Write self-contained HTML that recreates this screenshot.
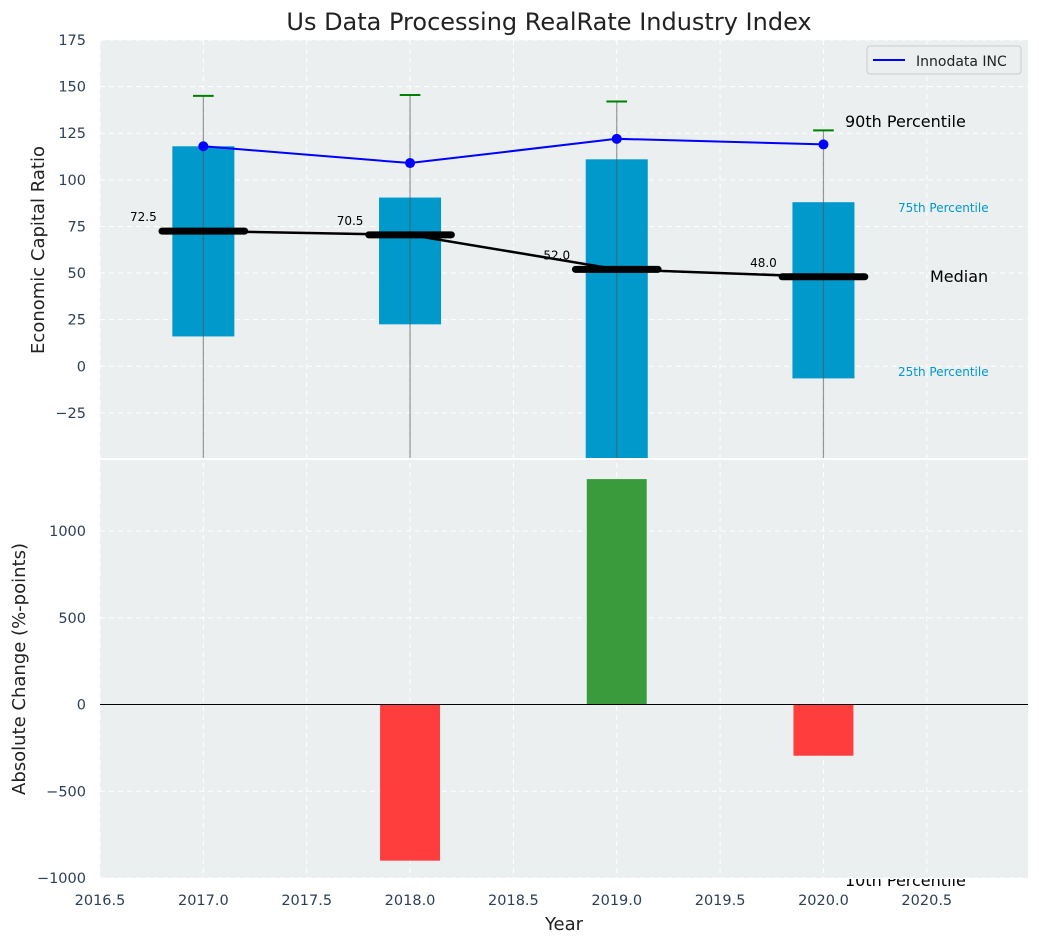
<!DOCTYPE html>
<html><head><meta charset="utf-8"><style>
body{margin:0;background:#fff;font-family:"DejaVu Sans","Liberation Sans",sans-serif}
svg text{font-family:"DejaVu Sans","Liberation Sans",sans-serif}
</style></head><body>
<svg id="chart" width="1039" height="942" xmlns="http://www.w3.org/2000/svg">
<text x="549" y="30" text-anchor="middle" font-size="24" fill="#222">Us Data Processing RealRate Industry Index</text>
<rect x="100" y="40" width="928" height="418" fill="#ebeff0"/>
<rect x="100" y="460" width="928" height="418" fill="#ebeff0"/>
<g id="grid"></g><g id="top"></g><g id="bottom"></g><g id="axes"></g>
<text transform="translate(44,250) rotate(-90)" text-anchor="middle" font-size="18" fill="#222">Economic Capital Ratio</text>
<text transform="translate(25,669) rotate(-90)" text-anchor="middle" font-size="18" fill="#222">Absolute Change (%-points)</text>
<text x="564" y="930" text-anchor="middle" font-size="18" fill="#222">Year</text>
<g>
<rect x="867" y="46" width="154" height="28" rx="3" fill="#ebeff0" stroke="#ccc"/>
<line x1="873" y1="60" x2="905" y2="60" stroke="#0000ff" stroke-width="2"/>
<text x="916" y="66" font-size="14" fill="#222">Innodata INC</text>
</g>
<text x="845" y="127" font-size="16" fill="#000">90th Percentile</text>
<text x="898" y="212" font-size="12" fill="#0099cc">75th Percentile</text>
<text x="930" y="282" font-size="16" fill="#000">Median</text>
<text x="898" y="376" font-size="12" fill="#0099cc">25th Percentile</text>
<clipPath id="c10"><rect x="0" y="879" width="1039" height="63"/></clipPath>
<text clip-path="url(#c10)" x="845" y="886" font-size="16" fill="#000">10th Percentile</text>
</svg>
<script>
const years=[2017,2018,2019,2020];
const p90=[145,145.5,142,126.5];
const p75=[118,90.5,111,88];
const p25=[16,22.5,-60,-6.5];
const medians=[72.5,70.5,52.0,48.0];
const company=[118,109,122,119];
const changes=[0,-900,1300,-295];
const xTicks=[2016.5,2017,2017.5,2018,2018.5,2019,2019.5,2020,2020.5];
const yTopTicks=[-25,0,25,50,75,100,125,150,175];
const yBotTicks=[-1000,-500,0,500,1000];
const NS="http://www.w3.org/2000/svg";
const X=v=>100+(v-2016.5)*206.7;
const YT=v=>40+(175-v)*(418/224.2);
const YB=v=>460+(1410-v)*(418/2410);
function mk(p,t,a){const e=document.createElementNS(NS,t);for(const k in a)e.setAttribute(k,a[k]);p.appendChild(e);return e;}
const G=document.getElementById('grid'),T=document.getElementById('top'),B=document.getElementById('bottom'),A=document.getElementById('axes');
xTicks.forEach(v=>{
 let l=mk(G,'line',{x1:X(v),x2:X(v),y1:40,y2:878,stroke:'#fff','stroke-dasharray':'5,4','stroke-width':1});
 
 let t=mk(A,'text',{x:X(v),y:905,'text-anchor':'middle','font-size':14.5,fill:'#2e4057'});t.textContent=v.toFixed(1);
 
});
yTopTicks.forEach(v=>{
 let l=mk(G,'line',{x1:100,x2:1028,y1:YT(v),y2:YT(v),stroke:'#fff','stroke-dasharray':'5,4'});
 
 let t=mk(A,'text',{x:86,y:YT(v)+5,'text-anchor':'end','font-size':14.5,fill:'#2e4057'});t.textContent=v<0?'\u2212'+(-v):v;
 
});
yBotTicks.forEach(v=>{
 let l=mk(G,'line',{x1:100,x2:1028,y1:YB(v),y2:YB(v),stroke:'#fff','stroke-dasharray':'5,4'});
 
 let t=mk(A,'text',{x:86,y:YB(v)+5,'text-anchor':'end','font-size':14.5,fill:'#2e4057'});t.textContent=v<0?'\u2212'+(-v):v;
 
});
mk(T,'clipPath',{id:'ct'});mk(T.lastChild,'rect',{x:100,y:40,width:928,height:418});
const tg=mk(T,'g',{'clip-path':'url(#ct)'});
years.forEach((y,i)=>{
 let r=mk(tg,'rect',{x:X(y-0.15),width:X(y+0.15)-X(y-0.15),y:YT(p75[i]),height:YT(p25[i])-YT(p75[i]),fill:'#0099cc'});
 
 let w=mk(tg,'line',{x1:X(y),x2:X(y),y1:YT(p90[i]),y2:470,stroke:'#555','stroke-opacity':0.6,'stroke-width':1.2});
 
 let c=mk(tg,'line',{x1:X(y-0.05),x2:X(y+0.05),y1:YT(p90[i]),y2:YT(p90[i]),stroke:'green','stroke-width':2});
 
});
let mp=mk(tg,'polyline',{points:years.map((y,i)=>X(y)+','+YT(medians[i])).join(' '),fill:'none',stroke:'#000','stroke-width':2.5});

years.forEach((y,i)=>{
 let m=mk(tg,'line',{x1:X(y-0.2),x2:X(y+0.2),y1:YT(medians[i]),y2:YT(medians[i]),stroke:'#000','stroke-width':7,'stroke-linecap':'round'});
 
 let t=mk(tg,'text',{x:X(y)-60,y:YT(medians[i])-10,'text-anchor':'middle','font-size':12,fill:'#000'});t.textContent=medians[i].toFixed(1);
 
});
let cl=mk(tg,'polyline',{points:years.map((y,i)=>X(y)+','+YT(company[i])).join(' '),fill:'none',stroke:'#0000ff','stroke-width':2});

years.forEach((y,i)=>{let p=mk(tg,'circle',{cx:X(y),cy:YT(company[i]),r:5,fill:'#0000ff'});
 });
years.forEach((y,i)=>{
 const v=changes[i];if(!v)return;
 let r=mk(B,'rect',{x:X(y-0.145),width:X(y+0.145)-X(y-0.145),y:Math.min(YB(v),YB(0)),height:Math.abs(YB(v)-YB(0)),fill:v>0?'#3a9b3c':'#ff3d3d'});
 
});
let z=mk(B,'line',{x1:100,x2:1028,y1:YB(0),y2:YB(0),stroke:'#000','stroke-width':1});

</script>
</body></html>
